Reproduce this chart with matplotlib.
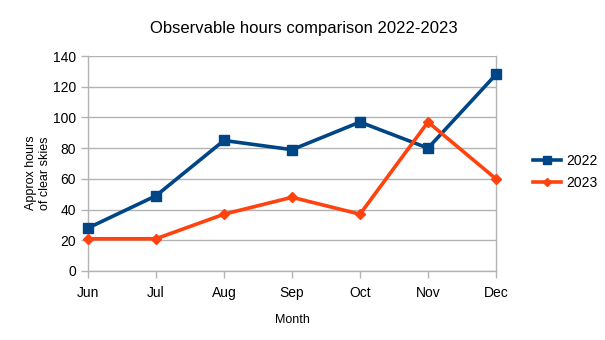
import matplotlib

matplotlib.use("Agg")

import matplotlib.pyplot as plt

plt.rcParams["font.family"] = ["Liberation Sans", "DejaVu Sans"]

months = ["Jun", "Jul", "Aug", "Sep", "Oct", "Nov", "Dec"]
hours_2022 = [28, 49, 85, 79, 97, 80, 128]
hours_2023 = [21, 21, 37, 48, 37, 97, 60]

BLUE = "#004586"
ORANGE = "#ff420e"
GRID = "#b3b3b3"

fig = plt.figure(figsize=(6.05, 3.4), dpi=100)
ax = fig.add_axes([88 / 605, 1 - 271 / 340, (496 - 88) / 605, (271 - 56) / 340])

x = range(len(months))
ax.plot(x, hours_2022, color=BLUE, lw=2.6, marker="s", ms=7.5, label="2022",
        clip_on=False, zorder=3)
ax.plot(x, hours_2023, color=ORANGE, lw=2.6, marker="D", ms=5.5, label="2023",
        clip_on=False, zorder=3)

ax.set_xlim(0, len(months) - 1)
ax.set_ylim(0, 140)
ax.set_yticks(range(0, 141, 20))
ax.set_xticks(list(x))
ax.set_xticklabels(months)
ax.yaxis.grid(True, color=GRID, lw=1)
ax.set_axisbelow(True)
for side in ("left", "right", "bottom", "top"):
    ax.spines[side].set_color(GRID)
    ax.spines[side].set_linewidth(1)
ax.spines["top"].set_visible(False)
ax.tick_params(axis="both", color=GRID, length=5, width=1, labelsize=10,
               labelcolor="#000000")
ax.tick_params(axis="x", pad=6)

ax.set_xlabel("Month", fontsize=9, labelpad=10)
ax.set_ylabel("Approx hours\nof clear skies", fontsize=9, linespacing=1.2)
ax.yaxis.set_label_coords(-0.09, 0.456)
fig.text(0.502, 0.917, "Observable hours comparison 2022-2023", ha="center",
         va="center", fontsize=12)

ax.legend(loc="center left", bbox_to_anchor=(1.06, 0.46), frameon=False,
          fontsize=10, handlelength=2.0, handletextpad=0.4, labelspacing=0.55,
          markerscale=0.8)

fig.savefig("out.png", dpi=100, facecolor="white")
